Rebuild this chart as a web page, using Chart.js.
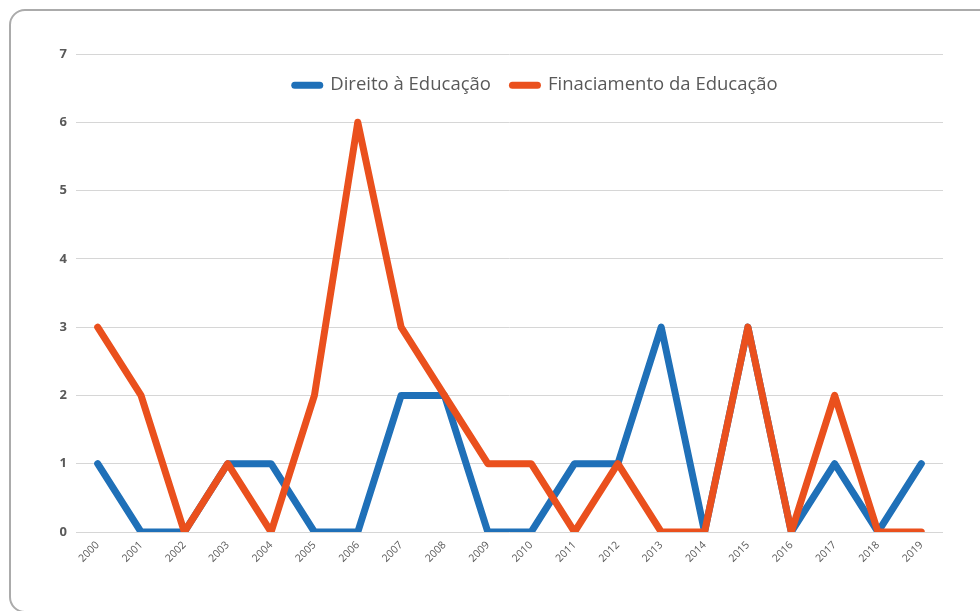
<!DOCTYPE html>
<html>
<head>
<meta charset="utf-8">
<script src="https://cdn.jsdelivr.net/npm/chart.js@4"></script>
<style>
  html, body { margin: 0; padding: 0; background: #fff; }
  .wrap { position: relative; width: 980px; height: 611px; overflow: hidden; }
  .frame {
    position: absolute; left: 9px; top: 9px; width: 1100px; height: 604px;
    box-sizing: border-box; border: 2px solid #ababab; border-radius: 16px;
    pointer-events: none;
  }
  canvas { position: absolute; left: 0; top: 0; }
</style>
</head>
<body>
<div class="wrap">
  <canvas id="chart1" width="980" height="611"></canvas>
  <div class="frame"></div>
</div>
<script>
//data
const years = ['2000', '2001', '2002', '2003', '2004', '2005', '2006', '2007', '2008', '2009',
  '2010', '2011', '2012', '2013', '2014', '2015', '2016', '2017', '2018', '2019'];
const direito = [1, 0, 0, 1, 1, 0, 0, 2, 2, 0, 0, 1, 1, 3, 0, 3, 0, 1, 0, 1];
const financiamento = [3, 2, 0, 1, 0, 2, 6, 3, 2, 1, 1, 0, 1, 0, 0, 3, 0, 2, 0, 0];
const yTicks = [0, 1, 2, 3, 4, 5, 6, 7];

const blue = '#1f70b8';
const orange = '#ea501d';

//legend drawn inside the chart area, between 7 and 6
const insideLegend = {
  id: 'insideLegend',
  afterDraw(chart) {
    const ctx = chart.ctx;
    const area = chart.chartArea;
    const yScale = chart.scales.y;
    const y = (yScale.getPixelForValue(7) + yScale.getPixelForValue(6)) / 2 - 3;
    const boxW = 32, gap = 7, between = 18;
    ctx.save();
    ctx.font = '18.5px "Open Sans"';
    const items = chart.data.datasets.map(ds => ({
      text: ds.label, color: ds.borderColor, w: ctx.measureText(ds.label).width
    }));
    let total = 0;
    items.forEach((it, i) => { total += boxW + gap + it.w + (i ? between : 0); });
    let x = (area.left + area.right) / 2 + 25 - total / 2;
    items.forEach(it => {
      ctx.strokeStyle = it.color;
      ctx.lineWidth = 7;
      ctx.lineCap = 'round';
      ctx.beginPath();
      ctx.moveTo(x + 3.5, y);
      ctx.lineTo(x + boxW - 3.5, y);
      ctx.stroke();
      ctx.fillStyle = '#595959';
      ctx.textBaseline = 'middle';
      ctx.fillText(it.text, x + boxW + gap, y);
      x += boxW + gap + it.w + between;
    });
    ctx.restore();
  }
};

const ctx = document.getElementById('chart1').getContext('2d');
const chart = new Chart(ctx, {
  type: 'line',
  data: {
    labels: years,
    datasets: [{
      label: 'Direito à Educação',
      data: direito,
      borderColor: blue,
      backgroundColor: blue,
      borderWidth: 7,
      pointRadius: 0,
      tension: 0,
      borderJoinStyle: 'round',
      borderCapStyle: 'round',
      order: 2
    },
    {
      label: 'Finaciamento da Educação',
      data: financiamento,
      borderColor: orange,
      backgroundColor: orange,
      borderWidth: 7,
      pointRadius: 0,
      tension: 0,
      borderJoinStyle: 'round',
      borderCapStyle: 'round',
      order: 1
    }]
  },
  options: {
    responsive: false,
    animation: false,
    layout: {
      padding: { left: 0, top: 54, right: 37, bottom: 0 }
    },
    scales: {
      x: {
        offset: true,
        grid: { display: false, drawTicks: false },
        border: { display: false },
        ticks: {
          minRotation: 45,
          maxRotation: 45,
          autoSkip: false,
          padding: 7,
          color: '#595959',
          font: { family: 'Open Sans', size: 10.5 }
        },
        afterFit(scale) { scale.height = 79; }
      },
      y: {
        min: 0,
        max: 7,
        afterBuildTicks(scale) { scale.ticks = yTicks.map(v => ({ value: v })); },
        grid: { color: '#d6d6d6', lineWidth: 1, drawTicks: false },
        border: { display: false },
        ticks: {
          padding: 9,
          color: '#595959',
          font: { family: 'Open Sans', size: 13, weight: 'bold' }
        },
        afterFit(scale) { scale.width = 76; }
      }
    },
    plugins: {
      legend: { display: false },
      tooltip: { enabled: false }
    }
  },
  plugins: [insideLegend]
});
</script>
</body>
</html>
